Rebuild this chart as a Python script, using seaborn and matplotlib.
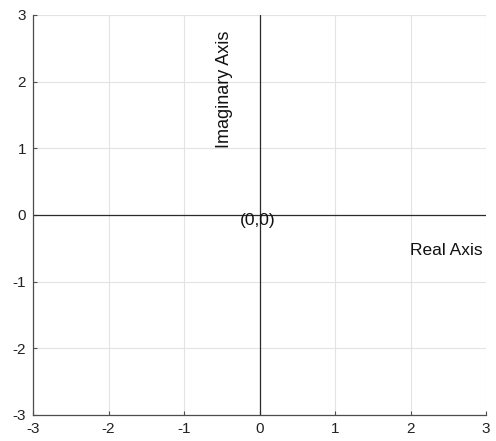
import numpy as np
import seaborn as sns
import matplotlib.pyplot as plt

# axis limits and ticks
ticks = [-3, -2, -1, 0, 1, 2, 3]
tick_labels = ["-3", "-2", "-1", "0", "1", "2", "3"]

# the two axis lines through the origin
real_x = [-3, 3]
real_y = [0, 0]
imag_x = [0, 0]
imag_y = [-3, 3]

# annotations (text, x, y)
origin_label = ("(0,0)", 0, 0)
real_label = ("Real Axis", 2, -0.5)
imag_label = ("Imaginary Axis", -0.5, 1)

sns.set_style("whitegrid")
plt.rcParams["font.family"] = ["Liberation Sans", "DejaVu Sans"]

fig = plt.figure(figsize=(4.96, 4.41), dpi=100)
ax = fig.add_axes([33 / 496, 1 - 415 / 441, 453 / 496, 400 / 441])

# estimator=None so the points are joined as given, no aggregation
sns.lineplot(x=real_x, y=real_y, ax=ax, color="#2b2b2b", linewidth=0.9,
             estimator=None, sort=False)
sns.lineplot(x=imag_x, y=imag_y, ax=ax, color="#2b2b2b", linewidth=0.9,
             estimator=None, sort=False)

ax.annotate(origin_label[0], (origin_label[1], origin_label[2]),
            xytext=(-1.5, -4), textcoords="offset points",
            ha="center", va="center", fontsize=12.5, color="#111111")
ax.annotate(real_label[0], (real_label[1], real_label[2]),
            xytext=(0, -1.5), textcoords="offset points",
            ha="left", va="center", fontsize=12.5, color="#111111")
ax.annotate(imag_label[0], (imag_label[1], imag_label[2]),
            xytext=(2, 0), textcoords="offset points", rotation=90,
            ha="center", va="bottom", fontsize=13, color="#111111")

ax.set_xlim(-3, 3)
ax.set_ylim(-3, 3)
ax.set_xticks(ticks)
ax.set_xticklabels(tick_labels)
ax.set_yticks(ticks)
ax.set_yticklabels(tick_labels)

ax.grid(True, color="#e3e3e3", linewidth=0.8)
for side in ["top", "right"]:
    ax.spines[side].set_visible(False)
for side in ["left", "bottom"]:
    ax.spines[side].set_color("#4d4d4d")
    ax.spines[side].set_linewidth(0.9)

ax.tick_params(axis="both", direction="in", length=3, width=0.8,
               color="#4d4d4d", labelsize=11, labelcolor="#222222", pad=5,
               left=True, bottom=True)

fig.savefig("out.png", dpi=100)
